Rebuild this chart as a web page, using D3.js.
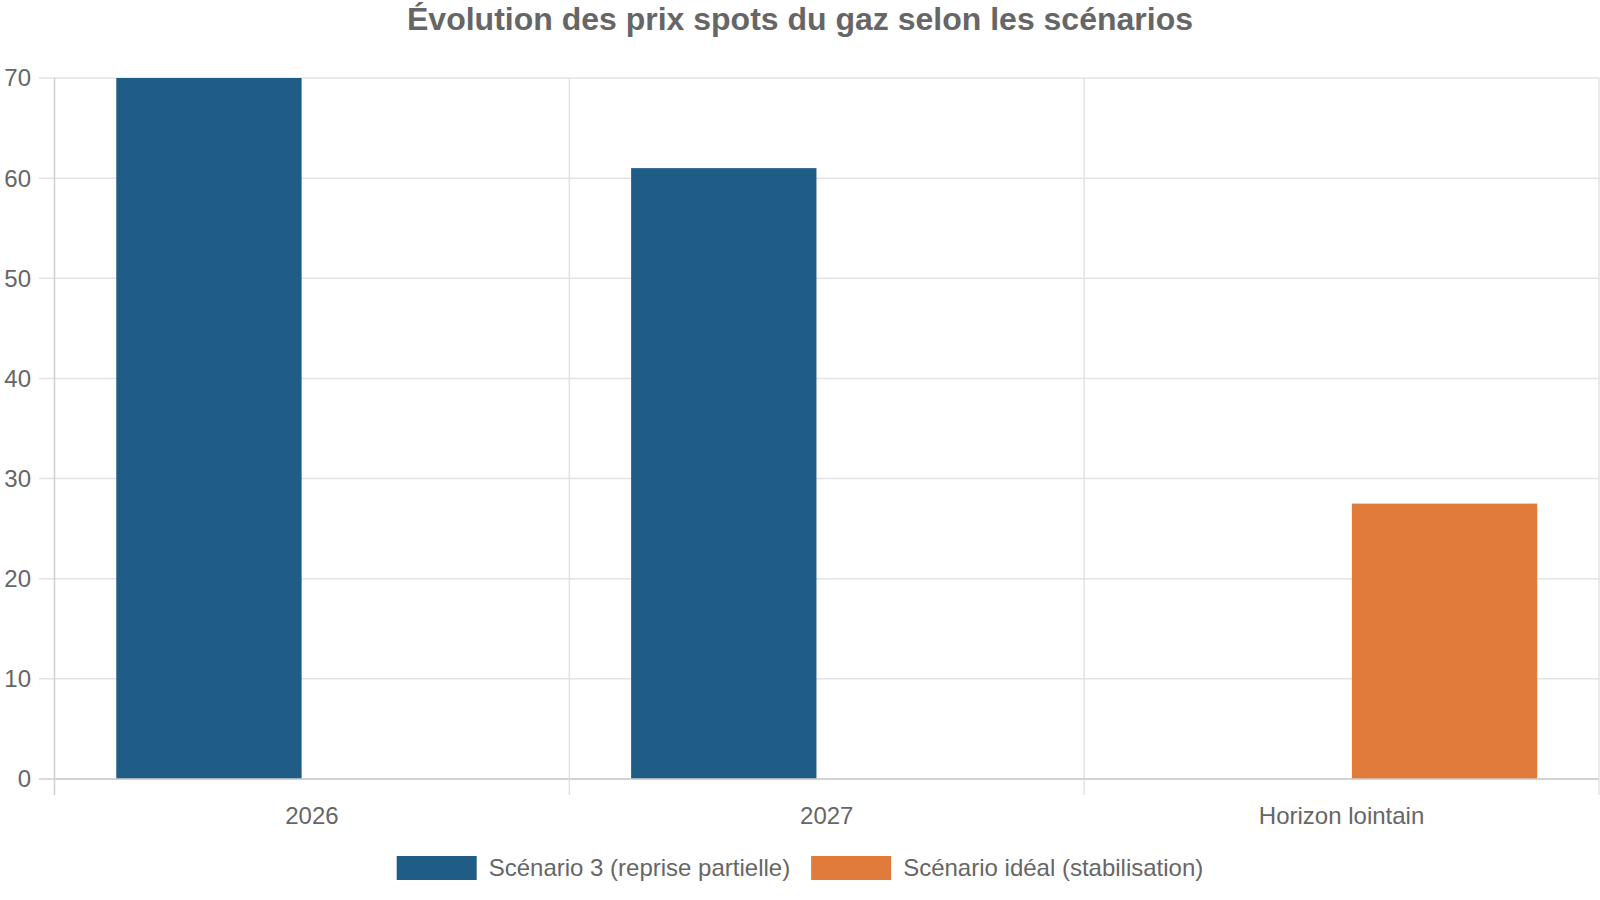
<!DOCTYPE html>
<html><head><meta charset="utf-8">
<script src="https://cdn.jsdelivr.net/npm/d3@7"></script>
<style>
html,body{margin:0;padding:0;background:#fff;}
svg text{font-family:"Liberation Sans",Arial,Helvetica,sans-serif;fill:#666;}
</style></head>
<body><svg id="c" width="1600" height="900"></svg>
<script>
const categories = ["2026", "2027", "Horizon lointain"];
const seriesNames = ["Scénario 3 (reprise partielle)", "Scénario idéal (stabilisation)"];
const scenario3 = [70, 61, null];
const scenarioIdeal = [null, null, 27.5];
const yTicks = [0, 10, 20, 30, 40, 50, 60, 70];
const colors = ["#205d86", "#e07b3a"];
const title = "Évolution des prix spots du gaz selon les scénarios";

const svg = d3.select("#c");
const m = {left: 54.5, right: 1599, top: 78, bottom: 779};
const x = d3.scaleBand().domain(categories).range([m.left, m.right]).paddingInner(0).paddingOuter(0);
const inner = d3.scaleBand().domain([0,1]).range([0, x.bandwidth()*0.8]);
const y = d3.scaleLinear().domain([0, 70]).range([m.bottom, m.top]);

// horizontal grid
svg.append("g").selectAll("line").data(yTicks).join("line")
  .attr("x1", 39).attr("x2", m.right)
  .attr("y1", d => y(d)).attr("y2", d => y(d))
  .attr("stroke", d => d === 0 ? "#cfcfcf" : "#e3e3e3").attr("stroke-width", 1.5);
// vertical grid
const vx = categories.map(c => x(c)).concat([x(categories[categories.length-1]) + x.bandwidth()]);
svg.append("g").selectAll("line").data(vx).join("line")
  .attr("x1", d => d).attr("x2", d => d)
  .attr("y1", m.top).attr("y2", m.bottom + 16)
  .attr("stroke", (d,i) => i === 0 ? "#d0d0d0" : "#e3e3e3").attr("stroke-width", 1.5);

// bars
const series = [scenario3, scenarioIdeal];
series.forEach((vals, si) => {
  svg.append("g").selectAll("rect").data(categories.map((c,i)=>({c, v: vals[i]})).filter(d => d.v != null)).join("rect")
    .attr("x", d => x(d.c) + x.bandwidth()*0.1 + inner(si) + inner.bandwidth()*0.05)
    .attr("width", inner.bandwidth()*0.9)
    .attr("y", d => y(d.v))
    .attr("height", d => y(0) - y(d.v))
    .attr("fill", colors[si]);
});
// redraw zero line on top
svg.append("line").attr("x1", m.left).attr("x2", m.right).attr("y1", y(0)).attr("y2", y(0))
  .attr("stroke", "#cfcfcf").attr("stroke-width", 1.5);

// y labels
svg.append("g").selectAll("text").data(yTicks).join("text")
  .attr("x", 31).attr("y", d => y(d)).attr("dy", "0.35em")
  .attr("text-anchor", "end").attr("font-size", 24).text(d => d);
// x labels
svg.append("g").selectAll("text").data(categories).join("text")
  .attr("x", d => x(d) + x.bandwidth()/2).attr("y", 824)
  .attr("text-anchor", "middle").attr("font-size", 24).text(d => d);
// title
svg.append("text").attr("x", 800).attr("y", 30).attr("text-anchor", "middle")
  .attr("font-size", 32).attr("font-weight", "bold").text(title);

// legend
const lg = svg.append("g");
const items = seriesNames.map((n,i)=>({n, c: colors[i]}));
const tmp = items.map(it => {
  const t = lg.append("text").attr("font-size", 24).text(it.n);
  const w = t.node().getComputedTextLength();
  t.remove();
  return w;
});
const boxW = 80, boxH = 24, gap1 = 12, gap2 = 21;
const total = tmp.reduce((a,w)=>a+boxW+gap1+w,0) + gap2*(items.length-1);
let cx = 800 - total/2;
items.forEach((it,i)=>{
  lg.append("rect").attr("x", cx).attr("y", 856).attr("width", boxW).attr("height", boxH).attr("fill", it.c);
  lg.append("text").attr("x", cx + boxW + gap1).attr("y", 868).attr("dy", "0.35em").attr("font-size", 24).text(it.n);
  cx += boxW + gap1 + tmp[i] + gap2;
});
</script></body></html>
